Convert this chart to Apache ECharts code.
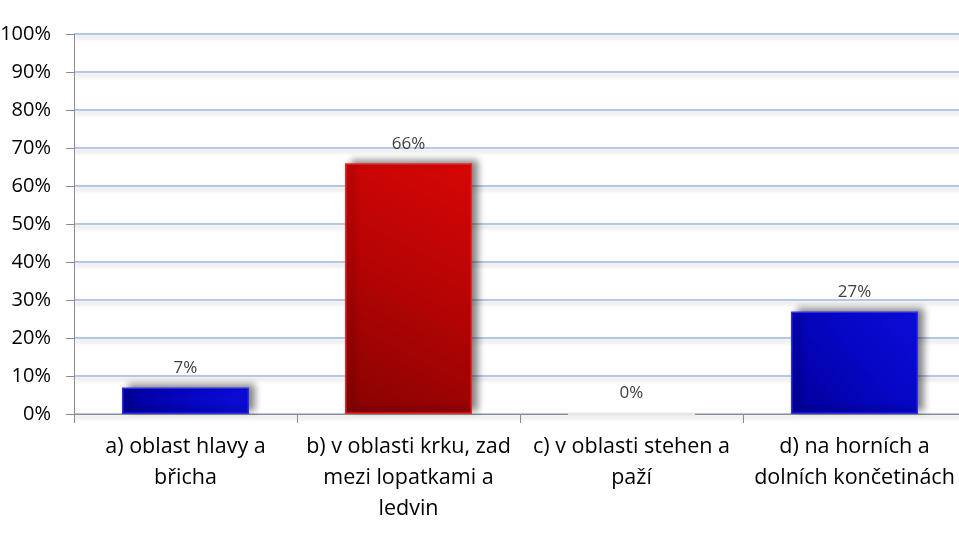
<!DOCTYPE html>
<html><head><meta charset="utf-8">
<script src="https://cdn.jsdelivr.net/npm/echarts@6/dist/echarts.min.js"></script>
<style>html,body{margin:0;padding:0;background:#fff}#c{width:959px;height:546px}</style>
</head><body><div id="c"></div>
<script>
const categories = ["a) oblast hlavy a\nbřicha", "b) v oblasti krku, zad\nmezi lopatkami a\nledvin", "c) v oblasti stehen a\npaží", "d) na horních a\ndolních končetinách"];
const values = [7, 66, 0, 27];
const barColors = ["blue", "red", "gray", "blue"];
const yTicks = [0, 10, 20, 30, 40, 50, 60, 70, 80, 90, 100];

const FONT = "Open Sans";
function grad(kind) {
  if (kind === "red") return new echarts.graphic.LinearGradient(0, 1, 1, 0, [
    {offset: 0, color: "#880202"}, {offset: 0.55, color: "#b80404"}, {offset: 1, color: "#d80606"}]);
  if (kind === "gray") return "rgba(0,0,0,0)";
  return new echarts.graphic.LinearGradient(0, 1, 1, 0, [
    {offset: 0, color: "#00009a"}, {offset: 0.55, color: "#0606c4"}, {offset: 1, color: "#0c0cd8"}]);
}
function border(kind) {
  return kind === "red" ? "#e42a2a" : kind === "gray" ? "#e6e6e6" : "#2c2cea";
}
const chart = echarts.init(document.getElementById("c"));
chart.setOption({
  animation: false,
  grid: {left: 74, width: 892, top: 34, bottom: 132, outerBoundsMode: "none", containLabel: false},
  xAxis: {
    type: "category", data: categories,
    axisLine: {lineStyle: {color: "#8c8c8c", width: 1}},
    axisTick: {show: true, length: 9, lineStyle: {color: "#8c8c8c"}},
    axisLabel: {interval: 0, color: "#000", fontFamily: FONT, fontSize: 21.5, lineHeight: 31, margin: 17}
  },
  yAxis: {
    type: "value", min: 0, max: 100, interval: 10,
    axisLine: {show: true, lineStyle: {color: "#8c8c8c"}},
    axisTick: {show: true, length: 8, lineStyle: {color: "#8c8c8c"}},
    axisLabel: {color: "#000", fontFamily: FONT, fontSize: 20, margin: 23, formatter: v => yTicks.includes(v) ? v + "%" : ""},
    splitLine: {show: true, lineStyle: {color: "#b5c8ea", width: 2, shadowColor: "rgba(0,0,0,0.18)", shadowBlur: 4, shadowOffsetY: 3}}
  },
  series: [{
    type: "bar", barWidth: "57%",
    data: values.map((v, i) => ({value: v, itemStyle: {color: grad(barColors[i]), borderColor: border(barColors[i]), borderWidth: barColors[i] === "gray" ? 3 : 1.5,
      shadowColor: barColors[i] === "gray" ? "rgba(0,0,0,0)" : "rgba(0,0,0,0.5)", shadowBlur: 7, shadowOffsetX: 6, shadowOffsetY: -3}})),
    label: {show: true, position: "top", distance: 11, color: "#404040", fontFamily: FONT, fontSize: 17, formatter: p => p.value + "%"}
  }]
});
</script></body></html>
